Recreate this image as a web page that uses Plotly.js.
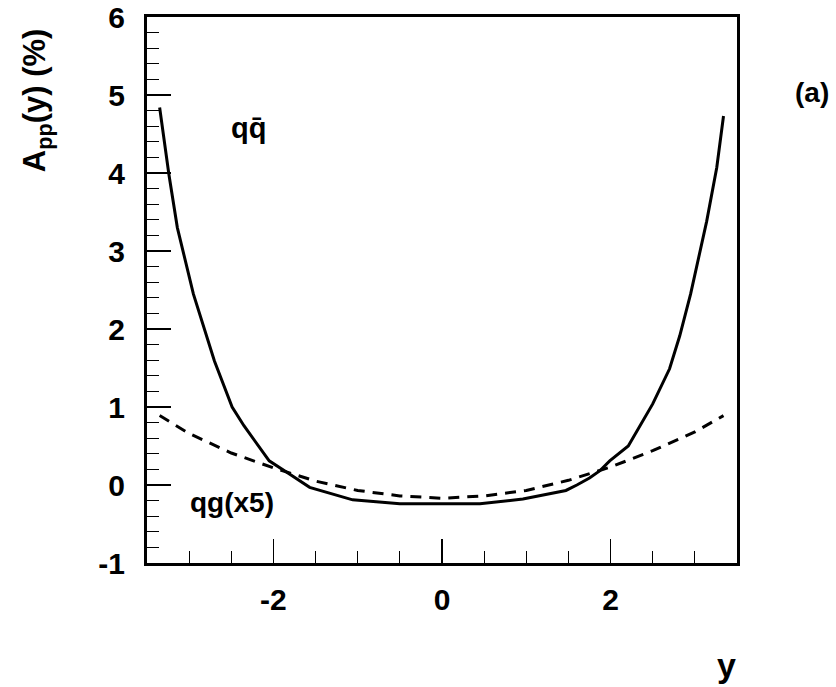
<!DOCTYPE html>
<html>
<head>
<meta charset="utf-8">
<script src="https://cdn.plot.ly/plotly-3.0.1.min.js"></script>
<style>html,body{margin:0;padding:0;background:#fff;}#chart{width:836px;height:687px;}</style>
</head>
<body>
<div id="chart"></div>
<script>
// q qbar asymmetry (solid)
var qqX = [-3.35, -3.24, -3.14, -2.95, -2.70, -2.49, -2.35, -2.05, -1.81, -1.57, -1.06, -0.50, 0.00, 0.45, 0.96, 1.47, 1.60, 1.75, 1.87, 1.99, 2.21, 2.50, 2.70, 2.82, 2.95, 3.14, 3.26, 3.34];
var qqY = [4.84, 3.98, 3.30, 2.45, 1.59, 1.00, 0.76, 0.31, 0.14, -0.03, -0.19, -0.24, -0.24, -0.24, -0.18, -0.07, 0.00, 0.09, 0.18, 0.31, 0.50, 1.04, 1.49, 1.91, 2.45, 3.38, 4.07, 4.73];
// q g asymmetry x5 (dashed)
var qgX = [-3.35, -3.00, -2.50, -2.00, -1.50, -1.00, -0.50, 0.00, 0.50, 1.00, 1.50, 2.00, 2.50, 3.00, 3.34];
var qgY = [0.89, 0.66, 0.41, 0.22, 0.05, -0.07, -0.14, -0.17, -0.14, -0.07, 0.06, 0.23, 0.44, 0.68, 0.89];

var xTickVals = [-2, 0, 2];
var yTickVals = [-1, 0, 1, 2, 3, 4, 5, 6];

var FONT = 'Liberation Sans, Arial, Helvetica, sans-serif';
var tf = {family: FONT, size: 30, color: '#000', weight: 'bold'};

var traces = [
  {x: qqX, y: qqY, type: 'scatter', mode: 'lines', line: {color: '#000', width: 3}, hoverinfo: 'skip'},
  {x: qgX, y: qgY, type: 'scatter', mode: 'lines', line: {color: '#000', width: 3, dash: '11px,8px'}, hoverinfo: 'skip'}
];

function ann(x, y, xref, text, size, extra) {
  var a = {x: x, y: y, xref: xref, yref: xref === 'paper' ? 'paper' : 'y', text: text, showarrow: false,
           xanchor: 'center', yanchor: 'middle',
           font: {family: FONT, size: size, color: '#000', weight: 'bold'}};
  for (var k in extra) a[k] = extra[k];
  return a;
}

var layout = {
  width: 836, height: 687,
  margin: {l: 147, r: 99, t: 17, b: 124},
  paper_bgcolor: '#fff', plot_bgcolor: '#fff',
  showlegend: false,
  font: {family: FONT, color: '#000', weight: 'bold'},
  xaxis: {
    range: [-3.5, 3.5], showgrid: false, zeroline: false,
    showline: true, linecolor: '#000', linewidth: 3, mirror: true,
    tickmode: 'array', tickvals: xTickVals, ticktext: xTickVals.map(String),
    ticks: 'inside', ticklen: 24, tickwidth: 1.5, tickcolor: '#000',
    minor: {ticks: 'inside', ticklen: 12, tickwidth: 1, tickcolor: '#000', dtick: 0.5, tick0: 0, showgrid: false},
    tickfont: tf, ticklabelstandoff: 8
  },
  yaxis: {
    range: [-1, 6], showgrid: false, zeroline: false,
    showline: true, linecolor: '#000', linewidth: 3, mirror: true,
    tickmode: 'array', tickvals: yTickVals, ticktext: yTickVals.map(String),
    ticks: 'inside', ticklen: 24, tickwidth: 1.5, tickcolor: '#000',
    minor: {ticks: 'inside', ticklen: 12, tickwidth: 1, tickcolor: '#000', dtick: 0.2, tick0: 0, showgrid: false},
    tickfont: tf, ticklabelstandoff: 13
  },
  annotations: [
    ann(-2.29, 4.58, 'x', 'qq\u0304', 29),
    ann(-2.495, -0.22, 'x', 'qg(x5)', 28),
    ann(1.127, 0.861, 'paper', '(a)', 28),
    ann(0.983, -0.187, 'paper', 'y', 34),
    ann(-0.186, 0.848, 'paper', 'A<sub>pp</sub>(y) (%)', 31, {textangle: -90})
  ]
};

Plotly.newPlot('chart', traces, layout, {displayModeBar: false, staticPlot: true});
</script>
</body>
</html>
